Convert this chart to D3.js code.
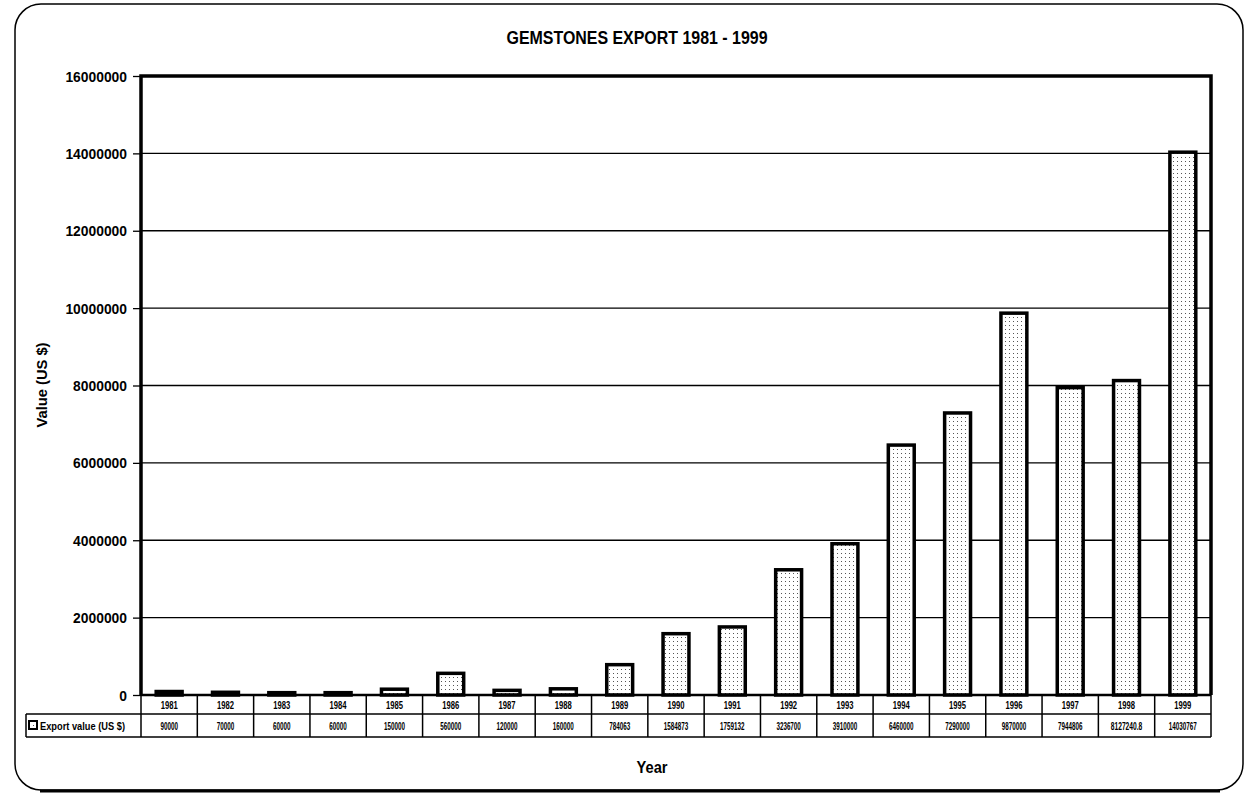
<!DOCTYPE html>
<html><head><meta charset="utf-8">
<script src="https://cdn.jsdelivr.net/npm/d3@7"></script>
<style>body{margin:0;background:#fff}svg{display:block}text{font-family:"Liberation Sans",Arial,sans-serif;font-weight:bold;fill:#000}</style>
</head><body><svg id="c" width="1245" height="798"></svg>
<script>
const years = ["1981","1982","1983","1984","1985","1986","1987","1988","1989","1990","1991","1992","1993","1994","1995","1996","1997","1998","1999"];
const values = [90000,70000,60000,60000,150000,560000,120000,160000,784063,1584873,1759132,3236700,3910000,6460000,7290000,9870000,7944806,8127240.8,14030767];
const valueLabels = ["90000","70000","60000","60000","150000","560000","120000","160000","784063","1584873","1759132","3236700","3910000","6460000","7290000","9870000","7944806","8127240.8","14030767"];
const yTicks = [0,2000000,4000000,6000000,8000000,10000000,12000000,14000000,16000000];
const seriesName = "Export value (US $)";
const title = "GEMSTONES EXPORT 1981 - 1999";

const svg = d3.select("#c");
const defs = svg.append("defs");
const pat = defs.append("pattern").attr("id","dots").attr("patternUnits","userSpaceOnUse").attr("width",4).attr("height",4);
pat.append("rect").attr("width",4).attr("height",4).attr("fill","#fff");
pat.append("rect").attr("x",1).attr("y",1).attr("width",1).attr("height",1).attr("fill","#555");

// outer rounded border
svg.append("rect").attr("x",15).attr("y",4).attr("width",1228).attr("height",786).attr("rx",26)
  .attr("fill","none").attr("stroke","#000").attr("stroke-width",1.5);
svg.append("path").attr("d","M40,791 L1220,791").attr("stroke","#000").attr("stroke-width",3);

const L=141, R=1211, T=76, B=695;
const x = d3.scaleBand().domain(years).range([L,R]).paddingInner(0.54).paddingOuter(0.27);
const xc = d3.scaleBand().domain(years).range([L,R]);
const y = d3.scaleLinear().domain([0,16000000]).range([B,T]);

svg.append("text").attr("x",637).attr("y",44).attr("text-anchor","middle").attr("font-size",18)
  .attr("textLength",261).attr("lengthAdjust","spacingAndGlyphs").text(title);

// grid
svg.append("g").selectAll("line").data(yTicks.slice(1,-1)).join("line")
  .attr("x1",L).attr("x2",R).attr("y1",d=>y(d)).attr("y2",d=>y(d)).attr("stroke","#000").attr("stroke-width",1.3);

// y axis
const ya = svg.append("g").attr("transform",`translate(${L},0)`)
  .call(d3.axisLeft(y).tickValues(yTicks).tickFormat(d3.format("d")).tickSize(8).tickPadding(6));
ya.select(".domain").remove();
ya.selectAll("line").attr("stroke","#000").attr("stroke-width",1.3);
ya.selectAll("text").attr("font-size",15).attr("font-family","Liberation Sans, Arial").attr("font-weight","bold")
  .attr("dy","0.34em")
  .attr("textLength",function(){return this.textContent.length*7.7;}).attr("lengthAdjust","spacingAndGlyphs");

// bars
svg.append("g").selectAll("rect").data(values).join("rect")
  .attr("x",(d,i)=>x(years[i])).attr("width",x.bandwidth())
  .attr("y",d=>y(d)).attr("height",d=>B-y(d))
  .attr("fill","url(#dots)").attr("stroke","#000").attr("stroke-width",3.5);

// plot frame
svg.append("path").attr("d",`M${L},${B} L${L},${T} L${R},${T} L${R},${B}`).attr("fill","none").attr("stroke","#000").attr("stroke-width",3.5);
svg.append("line").attr("x1",L).attr("x2",R).attr("y1",B).attr("y2",B).attr("stroke","#000").attr("stroke-width",2.5);

// table
const r1=B, r2=714, r3=737;
const tg = svg.append("g");
tg.append("line").attr("x1",26).attr("x2",R).attr("y1",r2).attr("y2",r2).attr("stroke","#000").attr("stroke-width",1.5);
tg.append("line").attr("x1",26).attr("x2",R).attr("y1",r3).attr("y2",r3).attr("stroke","#000").attr("stroke-width",1.5);
tg.append("line").attr("x1",26).attr("x2",26).attr("y1",r2).attr("y2",r3).attr("stroke","#000").attr("stroke-width",1.5);
tg.selectAll(".vl").data(years.concat(["end"])).join("line")
  .attr("x1",(d,i)=>L+i*xc.bandwidth()).attr("x2",(d,i)=>L+i*xc.bandwidth())
  .attr("y1",r1).attr("y2",r3).attr("stroke","#000").attr("stroke-width",1.5);
tg.selectAll(".yr").data(years).join("text")
  .attr("x",d=>xc(d)+xc.bandwidth()/2).attr("y",r1+13.5).attr("text-anchor","middle").attr("font-size",10)
  .attr("textLength",17).attr("lengthAdjust","spacingAndGlyphs").text(d=>d);
tg.selectAll(".vv").data(valueLabels).join("text")
  .attr("x",(d,i)=>xc(years[i])+xc.bandwidth()/2).attr("y",r2+15.5).attr("text-anchor","middle").attr("font-size",10)
  .attr("textLength",d=>d.length*3.5).attr("lengthAdjust","spacingAndGlyphs").text(d=>d);
tg.append("rect").attr("x",29).attr("y",r2+7).attr("width",8).attr("height",8).attr("fill","url(#dots)").attr("stroke","#000").attr("stroke-width",2);
tg.append("text").attr("x",40).attr("y",r2+15.5).attr("font-size",10)
  .attr("textLength",85).attr("lengthAdjust","spacingAndGlyphs").text(seriesName);

// axis titles
svg.append("text").attr("transform","translate(47,385) rotate(-90)").attr("text-anchor","middle").attr("font-size",14)
  .attr("textLength",85).attr("lengthAdjust","spacingAndGlyphs").text("Value (US $)");
svg.append("text").attr("x",652).attr("y",773).attr("text-anchor","middle").attr("font-size",17)
  .attr("textLength",31).attr("lengthAdjust","spacingAndGlyphs").text("Year");
</script></body></html>
